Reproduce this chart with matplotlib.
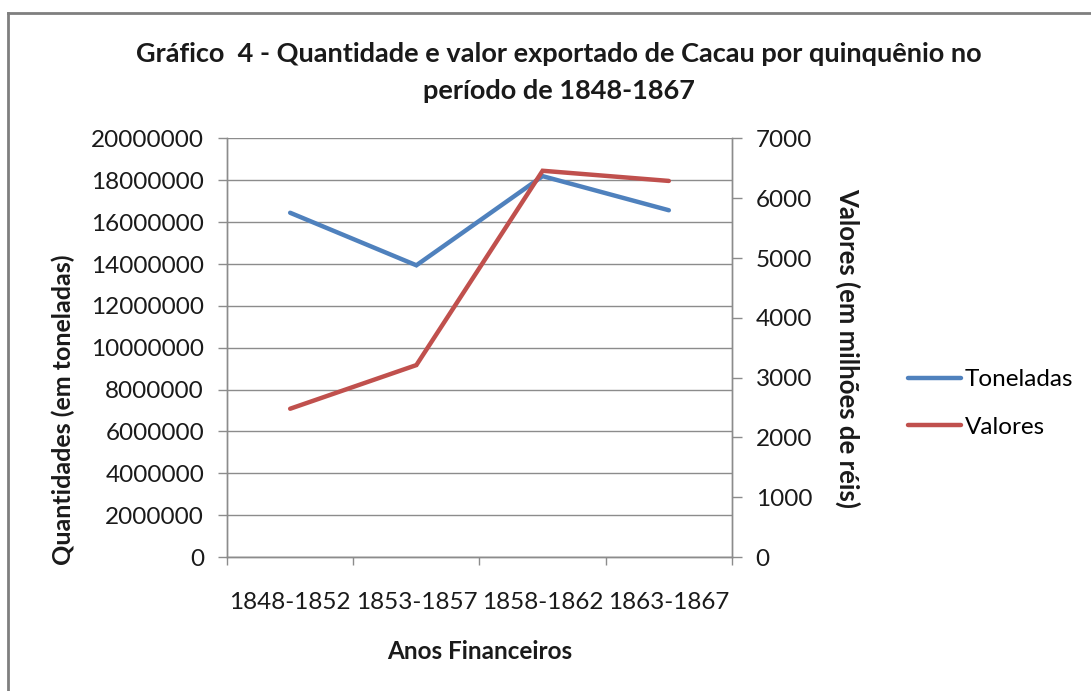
import matplotlib
matplotlib.use("Agg")
import matplotlib.pyplot as plt
import numpy as np

# data
periodos = ["1848-1852", "1853-1857", "1858-1862", "1863-1867"]
toneladas = [16450000, 13940000, 18200000, 16570000]
valores = [2480, 3210, 6460, 6290]

BLUE = "#4F81BD"
RED = "#C0504D"
GRID = "#8C8C8C"
TXT = "#1a1a1a"

plt.rcParams["font.family"] = ["Lato", "DejaVu Sans"]

fig = plt.figure(figsize=(10.91, 6.91), dpi=100)
ax = fig.add_axes([0.2081, 0.1939, 0.4628, 0.6057])
ax2 = ax.twinx()

x = np.arange(len(periodos))
l1, = ax.plot(x, toneladas, color=BLUE, linewidth=3.2, solid_capstyle="round",
              solid_joinstyle="miter", label="Toneladas", zorder=3)
l2, = ax2.plot(x, valores, color=RED, linewidth=3.2, solid_capstyle="round",
               solid_joinstyle="miter", label="Valores", zorder=3)

ax.set_xlim(-0.5, len(periodos) - 0.5)
ax.set_ylim(0, 20000000)
ax.set_yticks(np.arange(0, 20000001, 2000000))
ax.set_yticklabels([str(v) for v in range(0, 20000001, 2000000)])
ax2.set_ylim(0, 7000)
ax2.set_yticks(np.arange(0, 7001, 1000))

# category labels between boundary ticks
ax.set_xticks(np.arange(-0.5, len(periodos), 1.0))
ax.set_xticklabels([])
ax.set_xticks(x, minor=True)
ax.set_xticklabels(periodos, minor=True)
ax.tick_params(axis="x", which="major", length=6, color=GRID, width=1)
ax.tick_params(axis="x", which="minor", length=0, pad=25, labelsize=17.5, labelcolor=TXT)
ax.tick_params(axis="y", length=6.5, color=GRID, width=1, pad=10, labelsize=17.5, labelcolor=TXT)
ax2.tick_params(axis="y", length=7, color=GRID, width=1, pad=10, labelsize=17.5, labelcolor=TXT)

ax.grid(True, axis="y", color=GRID, linewidth=1)
ax.set_axisbelow(True)
for a in (ax, ax2):
    a.spines["top"].set_visible(False)
    for s in ("left", "right", "bottom"):
        a.spines[s].set_color(GRID)
        a.spines[s].set_linewidth(1)
ax2.set_zorder(ax.get_zorder() + 1)
ax2.patch.set_visible(False)

ax.set_ylabel("Quantidades (em toneladas)", fontsize=18, fontweight="bold", color=TXT)
ax.yaxis.set_label_coords(-0.301, 0.353)
ax2.set_ylabel("Valores (em milhões de réis)", fontsize=18.5, fontweight="bold",
               color=TXT, rotation=-90, va="center")
ax2.yaxis.set_label_coords(1.229, 0.5)
ax.set_xlabel("Anos Financeiros", fontsize=17.5, fontweight="bold", color=TXT)
ax.xaxis.set_label_coords(0.5, -0.198)

fig.text(0.512, 0.922, "Gráfico  4 - Quantidade e valor exportado de Cacau por quinquênio no",
         ha="center", va="center", fontsize=19.5, fontweight="bold", color=TXT)
fig.text(0.512, 0.868, "período de 1848-1867",
         ha="center", va="center", fontsize=19.5, fontweight="bold", color=TXT)

fig.legend(handles=[l1, l2], loc="center left", bbox_to_anchor=(0.812, 0.416),
           frameon=False, fontsize=17.5, handlelength=2.2, handletextpad=0.15,
           labelspacing=1.1)

# outer chart border (left and top visible in reference)
fig.add_artist(plt.Line2D([0.0075, 0.0075], [0.0, 0.981], color="#7f7f7f", linewidth=2,
                          transform=fig.transFigure))
fig.add_artist(plt.Line2D([0.0075, 1.0], [0.981, 0.981], color="#7f7f7f", linewidth=2,
                          transform=fig.transFigure))

fig.savefig("out.png", dpi=100, facecolor="white")
